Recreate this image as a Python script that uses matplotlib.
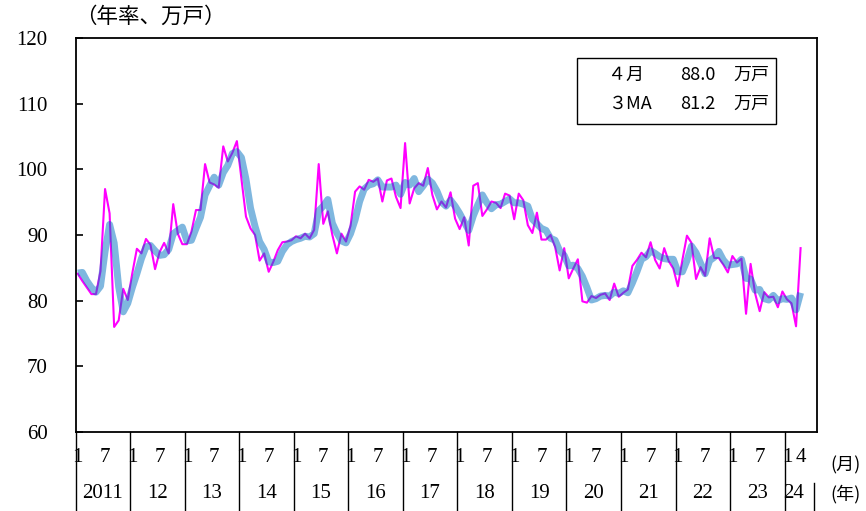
import matplotlib
matplotlib.use('Agg')
import matplotlib.pyplot as plt
import matplotlib.transforms as mtransforms
from matplotlib.patches import Rectangle
import numpy as np

# ---------------------------------------------------------------------------
# Data: monthly housing starts (annualised, 10k units), Jan 2011 - Apr 2024
# ---------------------------------------------------------------------------

monthly = [
    84.1, 83.0, 82.0, 81.0, 81.0, 84.5, 97.0, 93.3, 76.0, 77.0, 81.8, 80.1,   # 2011
    84.2, 87.9, 87.2, 89.4, 88.5, 84.8, 87.4, 88.8, 87.2, 94.7, 90.2, 88.6,   # 2012
    88.6, 90.5, 93.8, 93.8, 100.8, 98.0, 97.7, 97.2, 103.5, 101.2, 102.5, 104.3,  # 2013
    98.5, 92.8, 91.0, 90.0, 86.1, 87.2, 84.4, 85.9, 87.7, 88.9, 89.0, 89.2,   # 2014
    89.8, 89.5, 90.2, 89.5, 90.8, 100.8, 91.7, 93.6, 90.0, 87.2, 90.2, 89.0,  # 2015
    91.4, 96.6, 97.4, 96.9, 98.4, 98.1, 98.6, 95.1, 98.3, 98.6, 95.8, 94.1,   # 2016
    104.0, 94.8, 97.1, 97.9, 97.5, 100.2, 96.1, 93.9, 95.1, 94.2, 96.5, 92.5,  # 2017
    90.9, 92.7, 88.4, 97.5, 97.9, 92.9, 93.9, 95.1, 94.9, 94.1, 96.3, 96.0,   # 2018
    92.4, 96.3, 95.3, 91.5, 90.3, 93.4, 89.3, 89.3, 90.0, 88.2, 84.6, 88.0,   # 2019
    83.4, 84.9, 86.3, 79.9, 79.7, 80.7, 80.4, 80.9, 81.1, 80.1, 82.6, 80.6,   # 2020
    81.2, 81.7, 85.3, 86.2, 87.3, 86.6, 88.9, 86.2, 84.9, 88.0, 86.0, 84.9,   # 2021
    82.2, 86.2, 89.9, 88.8, 83.3, 85.1, 83.8, 89.5, 86.5, 86.5, 85.5, 84.3,   # 2022
    86.8, 85.8, 86.4, 78.0, 85.6, 81.1, 78.4, 81.3, 80.5, 80.6, 79.0, 81.4,   # 2023
    80.2, 79.6, 76.1, 88.0,                                                   # 2024
]

ma3 = [
    84.2, 84.3, 83.0, 82.0, 81.3, 82.2, 87.5, 91.6, 88.8, 82.1, 78.3, 79.6,
    82.0, 84.1, 86.4, 88.2, 88.4, 87.6, 86.9, 87.0, 87.8, 90.2, 90.7, 91.2,
    89.1, 89.2, 91.0, 92.7, 96.1, 97.5, 98.8, 97.6, 99.5, 100.6, 102.4, 102.7,
    101.8, 98.5, 94.1, 91.3, 89.0, 87.8, 85.9, 85.8, 86.0, 87.5, 88.5, 89.0,
    89.3, 89.5, 89.8, 89.7, 90.2, 93.7, 94.4, 95.4, 91.8, 90.3, 89.1, 88.8,
    90.2, 92.3, 95.1, 97.0, 97.6, 97.8, 98.4, 97.3, 97.3, 97.3, 97.6, 96.2,
    98.0, 97.6, 98.6, 96.6, 97.5, 98.5, 97.9, 96.7, 95.0, 94.4, 95.3, 94.4,
    93.3, 92.0, 90.7, 92.9, 94.6, 96.1, 94.9, 94.0, 94.6, 94.7, 95.1, 95.5,
    94.9, 94.9, 94.7, 94.4, 92.4, 91.7, 91.0, 90.7, 89.5, 89.2, 87.6, 86.9,
    85.3, 85.4, 84.9, 83.7, 82.0, 80.1, 80.3, 80.7, 80.8, 80.7, 81.3, 81.1,
    81.5, 81.2, 82.7, 84.4, 86.3, 86.7, 87.6, 87.2, 86.7, 86.4, 86.3, 86.3,
    84.4, 84.4, 86.1, 88.3, 87.3, 85.7, 84.1, 86.1, 86.6, 87.5, 86.2, 85.4,
    85.5, 85.6, 86.3, 83.4, 83.3, 81.6, 81.7, 80.3, 80.1, 80.8, 80.0, 80.3,
    80.2, 80.4, 78.6, 81.2,
]

year_labels = ["2011", "12", "13", "14", "15", "16", "17", "18", "19",
               "20", "21", "22", "23", "24"]
month_labels = ["1", "7"]
last_year_months = ["1", "4"]
yticks = [60, 70, 80, 90, 100, 110, 120]

box_rows = [("４月", "88.0", "万戸"), ("３MA", "81.2", "万戸")]

MAGENTA = "#ff00ff"
BLUE = "#0070c0"
SERIF = ["Liberation Serif", "DejaVu Serif"]
CJK = ["Noto Sans CJK JP", "DejaVu Sans"]
NUM_FS = 15

W, H = 866, 511

fig = plt.figure(figsize=(W / 100, H / 100), dpi=100)
ax = fig.add_axes([75.5 / W, 1 - 432 / H, (816.5 - 75.5) / W, (432 - 38) / H])

x = np.arange(len(monthly)) + 0.5
ax.plot(x, monthly, color=MAGENTA, linewidth=1.5, zorder=2)
ax.plot(x, ma3, color=BLUE, alpha=0.5, linewidth=5, zorder=3,
        solid_capstyle='butt')

ax.set_xlim(0, 163)
ax.set_ylim(60, 120)
ax.set_yticks(yticks)
ax.set_yticklabels([str(v) for v in yticks], family=SERIF, fontsize=NUM_FS)
ax.tick_params(axis='y', direction='in', length=5, width=1.2, pad=20)
ax.set_xticks([])
for s in ax.spines.values():
    s.set_linewidth(1.3)

# month / year labels below the axis
trans = mtransforms.blended_transform_factory(ax.transData, ax.transAxes)
n_years = len(year_labels)
for k, lab in enumerate(year_labels):
    start = k * 12
    ax.plot([start, start], [0, -0.21], transform=trans, color='black',
            linewidth=1.0, clip_on=False)
    last = k == n_years - 1
    months = last_year_months if last else month_labels
    offs = [0.5, 3.5] if last else [0.5, 6.5]
    for m, off in zip(months, offs):
        ax.text(start + off, -0.064, m, transform=trans, ha='center',
                va='center', family=SERIF, fontsize=NUM_FS)
    span = 4 if last else 12
    ax.text(start + span / 2, -0.157, lab, transform=trans, ha='center',
            va='center', family=SERIF, fontsize=NUM_FS)
# closing line after the last year label
end = (n_years - 1) * 12 + 6.5
ax.plot([end, end], [-0.13, -0.21], transform=trans, color='black',
        linewidth=1.0, clip_on=False)

fig.text(845 / W, 1 - 465 / H, "(月)", ha='center', va='center',
         family=CJK, fontsize=13)
fig.text(845 / W, 1 - 494 / H, "(年)", ha='center', va='center',
         family=CJK, fontsize=13)

# unit label
fig.text(75 / W, 1 - 17 / H, "（年率、万戸）", ha='left', va='center',
         family=CJK, fontsize=15.5)

# info box
fig.patches.append(Rectangle((577 / W, 1 - 124 / H), (776 - 577) / W,
                             (124 - 58) / H, transform=fig.transFigure,
                             facecolor='white', edgecolor='black',
                             linewidth=1.0, zorder=5))
for r, (a, b, c) in enumerate(box_rows):
    yy = 1 - (75 + r * 29) / H
    fig.text(608 / W, yy, a, ha='left', va='center', family=CJK,
             fontsize=13, zorder=6)
    fig.text(680 / W, yy, b, ha='left', va='center', family=CJK,
             fontsize=13, zorder=6)
    fig.text(733 / W, yy, c, ha='left', va='center', family=CJK,
             fontsize=13, zorder=6)

fig.savefig("out.png", dpi=100)
